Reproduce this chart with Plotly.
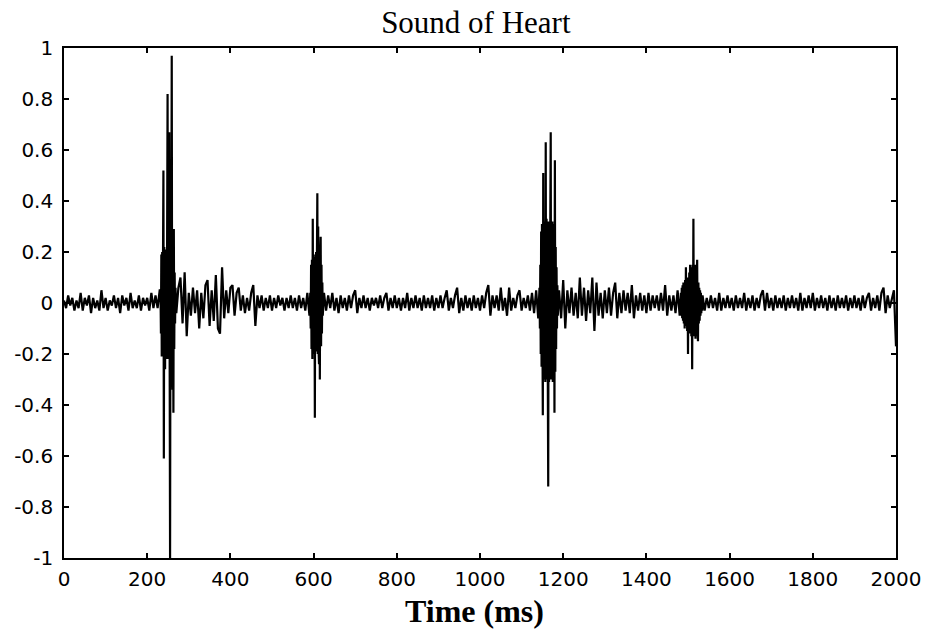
import numpy as np
import plotly.graph_objects as go

# ---------------- data ----------------
# Each segment: (start_ms, end_ms, amplitudes sampled evenly between them)
seg_a_span = (0, 230)
seg_a = [0.01, -0.02, 0.03, -0.01, 0.02, -0.03, 0.01, -0.02, 0.04, -0.03, 0.02, -0.01,
         0.03, -0.04, 0.02, -0.02, 0.01, -0.03, 0.05, -0.02, 0.02, -0.03, 0.01, -0.01,
         0.03, -0.02, 0.02, -0.04, 0.03, -0.01, 0.02, -0.03, 0.04, -0.02, 0.01, -0.02,
         0.03, -0.03, 0.02, -0.01, 0.02, -0.03, 0.04, -0.02, 0.03, -0.02, 0.05]

burst_1_span = (232, 268)
burst_1 = [0.05, -0.12, 0.19, -0.21, 0.20, -0.18, 0.21, 0.52, -0.61, 0.22, -0.20, -0.26,
           0.21, -0.22, 0.20, -0.21, 0.22, 0.82, -0.22, 0.20, -0.21, 0.67, -0.22, -1.0,
           0.21, -0.22, 0.20, 0.97, -0.23, -0.34, 0.22, -0.43, 0.29, -0.18, 0.12, -0.08, 0.06]

seg_b_span = (270, 590)
seg_b = [-0.04, 0.06, 0.10, -0.08, 0.12, -0.13, 0.04, -0.05, 0.06, -0.04, 0.05, -0.10,
         0.04, -0.06, 0.07, 0.09, -0.09, 0.05, -0.07, 0.11, -0.10, -0.12, 0.14, -0.06,
         0.05, -0.04, 0.06, 0.07, -0.05, 0.04, 0.06, -0.03, 0.03, -0.04, 0.02, -0.03,
         0.04, 0.07, -0.09, 0.03, -0.02, 0.03, -0.03, 0.02, -0.02, 0.03, -0.03, 0.02,
         -0.02, 0.03, -0.01, 0.02, -0.03, 0.02, -0.02, 0.03, -0.02, 0.02, -0.03, 0.03,
         -0.02, 0.02, -0.03, 0.04, -0.05]

burst_2_span = (592, 622)
burst_2 = [0.04, -0.10, 0.15, -0.18, 0.17, -0.22, 0.33, -0.20, 0.18, -0.19, 0.17, -0.45,
           0.19, -0.18, 0.20, -0.19, 0.18, 0.43, -0.20, 0.30, -0.19, -0.24, 0.21, -0.30,
           0.20, 0.26, -0.17, 0.15, -0.12, 0.08, -0.05]

seg_c_span = (625, 1140)
seg_c = [0.04, -0.03, 0.03, -0.02, 0.04, -0.03, 0.02, -0.04, 0.03, -0.02, 0.02, -0.03,
         0.03, -0.02, 0.03, 0.05, -0.04, 0.02, -0.02, 0.03, -0.02, 0.02, -0.03, 0.02,
         -0.01, 0.02, -0.02, 0.03, -0.02, 0.02, 0.04, -0.03, 0.02, -0.02, 0.03, -0.02,
         0.02, -0.03, 0.02, -0.02, 0.04, -0.03, 0.02, -0.02, 0.03, -0.02, 0.02, -0.03,
         0.03, -0.02, 0.02, -0.02, 0.03, -0.03, 0.02, -0.02, 0.03, -0.02, 0.02, 0.05,
         -0.03, 0.02, -0.02, 0.03, 0.06, -0.04, 0.02, -0.03, 0.03, -0.02, 0.02, -0.03,
         0.03, -0.02, 0.02, -0.03, 0.03, -0.02, 0.04, 0.07, -0.05, 0.03, -0.02, 0.03,
         -0.03, 0.06, -0.03, 0.02, -0.05, 0.06, -0.03, 0.02, -0.02, 0.03, 0.05, -0.03,
         0.02, -0.02, 0.03, -0.03, 0.04, -0.04, 0.05, -0.06]

burst_3_span = (1143, 1187)
burst_3 = [0.06, -0.10, 0.15, -0.20, 0.28, -0.25, 0.31, -0.28, -0.44, 0.51, -0.30, 0.32,
           -0.29, 0.30, -0.31, 0.63, -0.28, 0.33, -0.30, 0.31, -0.29, -0.72, 0.32, -0.31,
           0.30, -0.28, 0.33, 0.67, -0.30, 0.31, -0.29, 0.32, -0.31, 0.29, -0.30, 0.31,
           -0.43, 0.56, -0.27, 0.22, -0.18, 0.14, -0.10, 0.07, -0.05]

seg_d_span = (1190, 1480)
seg_d = [0.05, -0.06, 0.09, -0.10, 0.05, -0.04, 0.06, -0.05, 0.04, -0.06, 0.10, -0.05,
         0.06, -0.07, 0.05, -0.04, 0.10, -0.11, 0.08, -0.05, 0.04, -0.06, 0.05, -0.04,
         0.06, -0.05, 0.04, 0.08, -0.06, 0.04, -0.04, 0.05, -0.03, 0.04, -0.04, 0.07,
         -0.06, 0.03, -0.03, 0.04, -0.03, 0.03, -0.04, 0.04, -0.03, 0.03, -0.02, 0.03,
         -0.03, 0.04, -0.03, 0.07, -0.05, 0.03, -0.03, 0.03, -0.04, 0.05, -0.05]

burst_4_span = (1483, 1535)
burst_4 = [0.04, -0.05, 0.06, -0.06, 0.07, -0.07, 0.08, -0.08, 0.07, -0.10, 0.09, -0.08,
           0.14, -0.09, 0.10, -0.11, 0.09, -0.20, 0.10, -0.12, 0.12, -0.10, 0.15, -0.12,
           0.14, -0.13, 0.13, -0.26, 0.15, -0.12, 0.33, -0.13, 0.14, -0.12, 0.15, -0.14,
           0.12, -0.13, 0.10, 0.17, -0.10, -0.15, 0.08, -0.08, 0.06, -0.07, 0.05, -0.05,
           0.04, -0.04, 0.03, -0.03, 0.03]

seg_e_span = (1540, 2000)
seg_e = [-0.03, 0.02, -0.02, 0.03, -0.02, 0.02, -0.03, 0.04, -0.03, 0.02, -0.02, 0.03,
         -0.02, 0.02, -0.03, 0.03, -0.02, 0.02, -0.02, 0.04, -0.03, 0.02, -0.02, 0.03,
         -0.03, 0.02, -0.02, 0.03, 0.05, -0.03, 0.04, -0.02, 0.02, -0.03, 0.03, -0.02,
         0.02, -0.02, 0.03, -0.03, 0.02, -0.02, 0.03, -0.02, 0.02, -0.03, 0.04, -0.03,
         0.02, -0.02, 0.03, -0.02, 0.04, -0.03, 0.02, -0.02, 0.03, -0.02, 0.02, -0.03,
         0.03, -0.02, 0.02, -0.03, 0.03, -0.02, 0.02, -0.02, 0.03, -0.03, 0.02, -0.02,
         0.03, -0.02, 0.02, -0.03, 0.03, -0.02, 0.02, 0.04, -0.03, 0.02, -0.02, 0.03,
         -0.03, 0.04, 0.06, -0.04, 0.03, -0.02, 0.02, 0.05, -0.17]

x_tick_vals = [0, 200, 400, 600, 800, 1000, 1200, 1400, 1600, 1800, 2000]
x_tick_text = ["0", "200", "400", "600", "800", "1000", "1200", "1400", "1600", "1800", "2000"]
y_tick_vals = [-1, -0.8, -0.6, -0.4, -0.2, 0, 0.2, 0.4, 0.6, 0.8, 1]
y_tick_text = ["-1", "-0.8", "-0.6", "-0.4", "-0.2", "0", "0.2", "0.4", "0.6", "0.8", "1"]

title_text = "Sound of Heart"
x_label = "Time (ms)"

# ---------------- assemble the trace ----------------
segments = [(seg_a_span, seg_a), (burst_1_span, burst_1), (seg_b_span, seg_b),
            (burst_2_span, burst_2), (seg_c_span, seg_c), (burst_3_span, burst_3),
            (seg_d_span, seg_d), (burst_4_span, burst_4), (seg_e_span, seg_e)]
t_all, a_all = [], []
for (t0, t1), vals in segments:
    t_all.extend(np.linspace(t0, t1, len(vals)).tolist())
    a_all.extend(vals)

fig = go.Figure()
fig.add_trace(go.Scatter(x=t_all, y=a_all, mode="lines",
                         line=dict(color="black", width=2.2),
                         hoverinfo="skip", showlegend=False))

axis_common = dict(showline=True, linecolor="black", linewidth=1.6, mirror="allticks",
                   ticks="inside", ticklen=5, tickwidth=1.6, tickcolor="black",
                   showgrid=False, zeroline=False,
                   tickfont=dict(family="DejaVu Sans", size=20, color="black"))

fig.update_xaxes(range=[0, 2000], tickmode="array", tickvals=x_tick_vals,
                 ticktext=x_tick_text, ticklabelstandoff=2, **axis_common)
fig.update_yaxes(range=[-1, 1], tickmode="array", tickvals=y_tick_vals,
                 ticktext=y_tick_text, ticklabelstandoff=5, **axis_common)

fig.update_layout(
    width=935, height=631,
    margin=dict(l=64, r=39, t=48, b=73),
    paper_bgcolor="white", plot_bgcolor="white",
    title=dict(text=title_text, x=0.495, xref="paper", y=1 - 22 / 631, yref="container",
               xanchor="center", yanchor="middle",
               font=dict(family="Liberation Serif", size=31, color="black")),
    annotations=[dict(text="<b>" + x_label + "</b>", xref="paper", yref="paper",
                      x=0.493, y=-(611 - 558) / 510, xanchor="center", yanchor="middle",
                      showarrow=False,
                      font=dict(family="Liberation Serif", size=32, color="black"))],
)

fig.write_html("out.html")
